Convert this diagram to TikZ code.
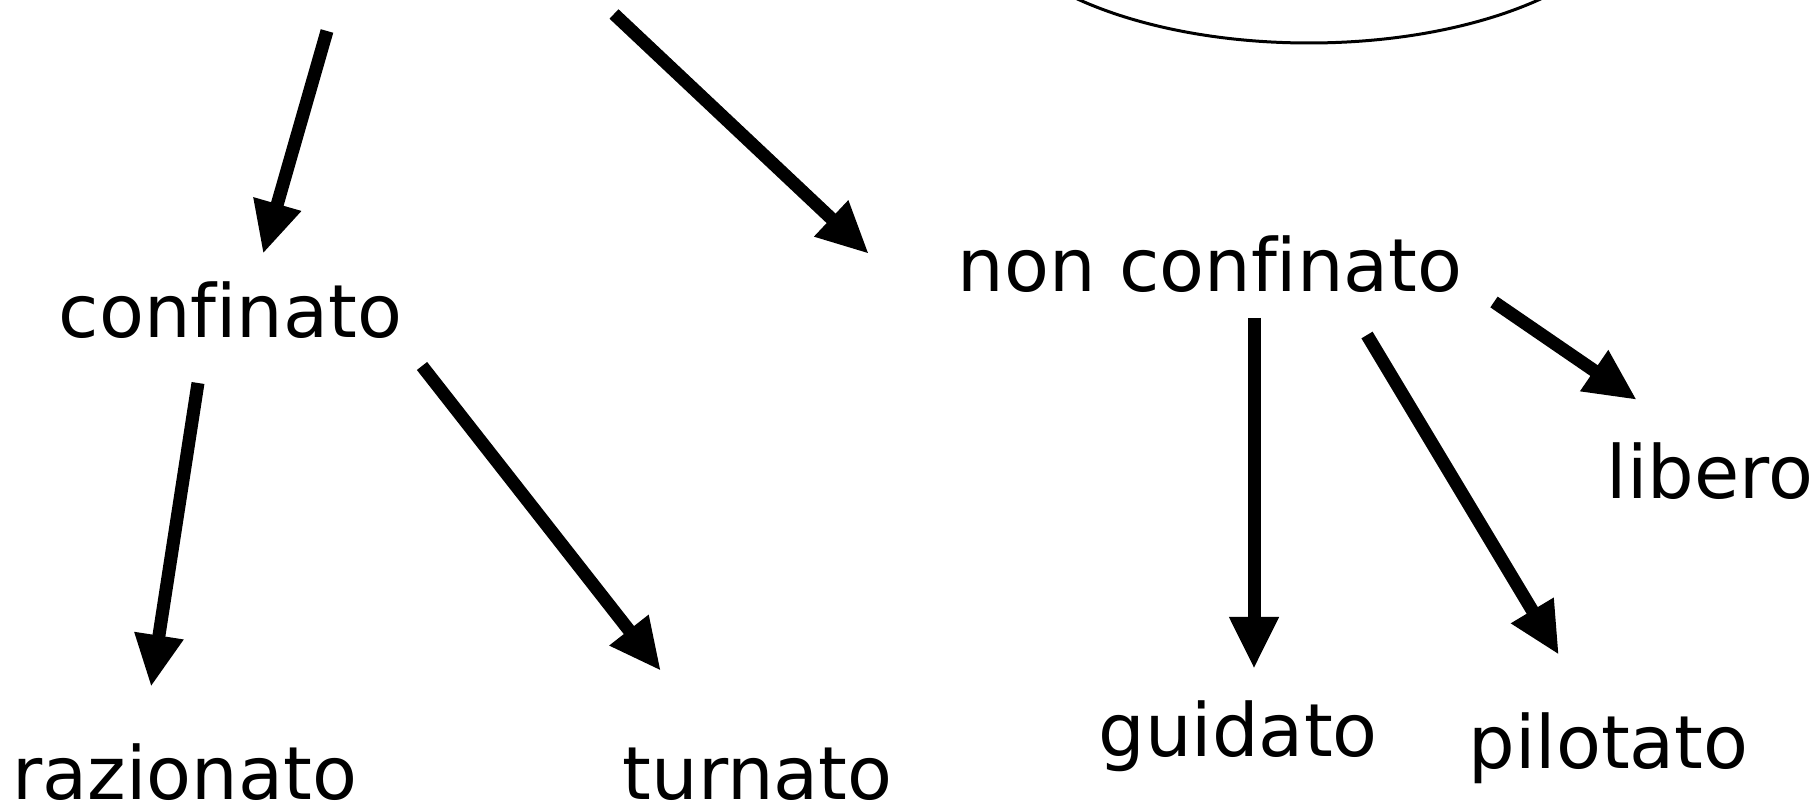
\documentclass[tikz,border=0pt]{standalone}
\usepackage{fontspec}
\setmainfont[Ligatures=NoCommon]{DejaVu Sans}
\usetikzlibrary{arrows.meta}
\newcommand{\nofi}{f{\kern0pt}i}
\tikzset{
  lbl/.style={inner sep=0pt, anchor=base west, font=\fontsize{20.9pt}{25pt}\selectfont},
  arr/.style={line width=1.3mm, -{Triangle[length=5.2mm, width=4.6mm]}},
}
\begin{document}
\begin{tikzpicture}[x=0.1mm, y=-0.1mm]
\useasboundingbox (0,0) rectangle (1816,808);
\begin{scope}
\clip (0,0) rectangle (1816,808);
\draw[line width=0.3mm] (1309,-110) ellipse [x radius=330, y radius=153];
\end{scope}
% labels
\node[lbl] (conf) at (58,338) {con\nofi nato};
\node[lbl] (raz) at (12,799) {razionato};
\node[lbl] (turn) at (622,799) {turnato};
\node[lbl] (nonconf) at (957,292) {non con\nofi nato};
\node[lbl] (lib) at (1606,499) {libero};
\node[lbl] (guid) at (1098,757) {guidato};
\node[lbl] (pil) at (1468,769) {pilotato};
% arrow end points
\coordinate (a1s) at (327,31);  \coordinate (a1e) at (263,254);
\coordinate (a2s) at (614,14);  \coordinate (a2e) at (869,254);
\coordinate (a3s) at (198,383); \coordinate (a3e) at (151,687);
\coordinate (a4s) at (422,366); \coordinate (a4e) at (661,671);
\coordinate (a5s) at (1254,318); \coordinate (a5e) at (1254,669);
\coordinate (a6s) at (1367,335); \coordinate (a6e) at (1559,655);
\coordinate (a7s) at (1494,302); \coordinate (a7e) at (1637,400);
\draw[arr] (a1s) -- (a1e);
\draw[arr] (a2s) -- (a2e);
\draw[arr] (a3s) -- (a3e);
\draw[arr] (a4s) -- (a4e);
\draw[arr] (a5s) -- (a5e);
\draw[arr] (a6s) -- (a6e);
\draw[arr] (a7s) -- (a7e);
\end{tikzpicture}
\end{document}
